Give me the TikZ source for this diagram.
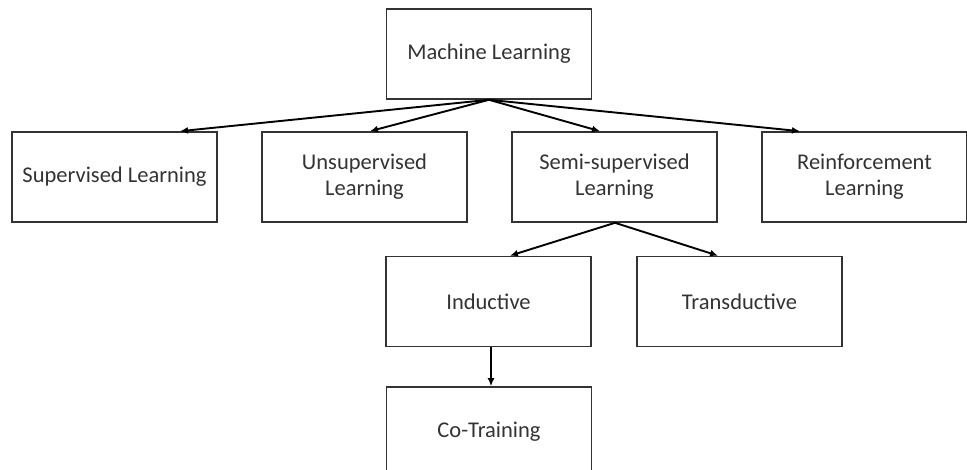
\documentclass[tikz,border=0pt]{standalone}
\usepackage{fontspec}
\setmainfont{Carlito}
\usetikzlibrary{arrows.meta}
\definecolor{boxline}{HTML}{333333}
\definecolor{boxtext}{HTML}{333333}
\begin{document}
\begin{tikzpicture}[x=1pt,y=-1pt,
  box/.style={draw=boxline,line width=1.6pt,minimum width=205pt,minimum height=90pt,
    align=center,text=boxtext,font=\fontsize{22.5}{26}\selectfont,inner sep=0pt},
  conn/.style={line width=1.9pt,-{Latex[length=8pt,width=7pt]}}]
\useasboundingbox (0,0) rectangle (967,470);
\node[box] (ml) at (489,54) {Machine Learning};
\node[box] (sup) at (114.5,177) {Supervised Learning};
\node[box] (uns) at (364.5,177) {Unsupervised\\Learning};
\node[box] (semi) at (614.5,177) {Semi-supervised\\Learning};
\node[box] (rein) at (864.5,177) {Reinforcement\\Learning};
\node[box] (ind) at (488.5,301.5) {Inductive};
\node[box] (tra) at (739.5,301.5) {Transductive};
\node[box] (co) at (489,432) {Co-Training};
\draw[conn] (ml.south) -- ([xshift=65.5pt]sup.north);
\draw[conn] (ml.south) -- ([xshift=5.5pt]uns.north);
\draw[conn] (ml.south) -- ([xshift=-14.5pt]semi.north);
\draw[conn] (ml.south) -- ([xshift=-64.5pt]rein.north);
\draw[conn] ([xshift=0.5pt]semi.south) -- ([xshift=21.5pt]ind.north);
\draw[conn] ([xshift=0.5pt]semi.south) -- ([xshift=-21.5pt]tra.north);
\draw[conn] ([xshift=2.5pt]ind.south) -- ([xshift=2pt]co.north);
\end{tikzpicture}
\end{document}
